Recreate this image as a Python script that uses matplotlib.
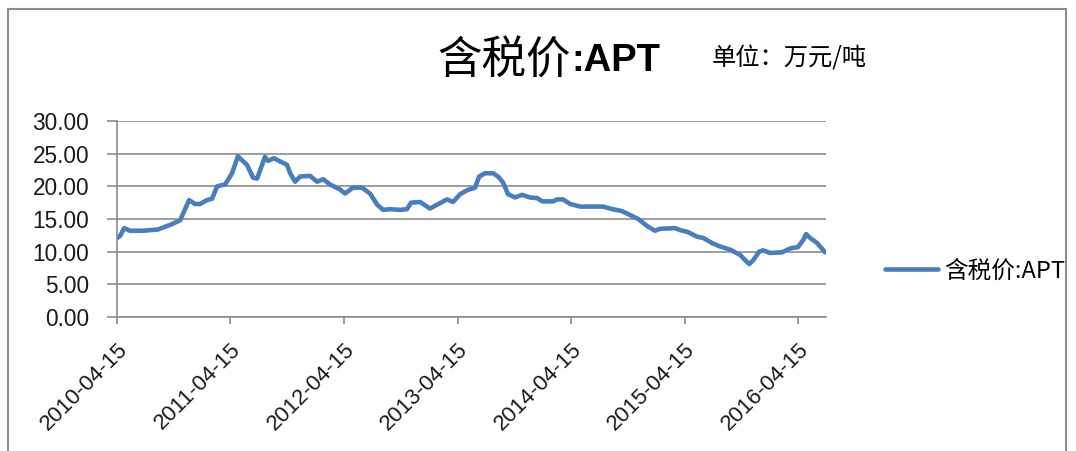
import matplotlib
matplotlib.use("Agg")
import matplotlib.pyplot as plt
import pandas as pd
from matplotlib.patches import Rectangle
from matplotlib.lines import Line2D

plt.rcParams['font.family'] = ['Noto Sans CJK SC', 'DejaVu Sans']

dates = ["2010-04-15", "2010-04-25", "2010-05-08", "2010-05-27", "2010-07-08", "2010-08-25",
         "2010-10-03", "2010-11-04", "2010-12-03", "2010-12-22", "2011-01-07", "2011-01-30",
         "2011-02-15", "2011-03-03", "2011-03-29", "2011-04-20", "2011-05-09", "2011-06-07",
         "2011-06-27", "2011-07-10", "2011-08-04", "2011-08-14", "2011-09-02", "2011-09-22",
         "2011-10-14", "2011-10-24", "2011-11-09", "2011-11-25", "2011-12-27", "2012-01-19",
         "2012-02-07", "2012-02-29", "2012-04-02", "2012-04-18", "2012-05-13", "2012-06-11",
         "2012-07-07", "2012-07-30", "2012-08-18", "2012-09-09", "2012-10-12", "2012-11-03",
         "2012-11-16", "2012-12-15", "2013-01-16", "2013-02-08", "2013-03-12", "2013-03-31",
         "2013-04-23", "2013-05-15", "2013-06-10", "2013-06-23", "2013-07-12", "2013-08-07",
         "2013-08-23", "2013-09-08", "2013-09-24", "2013-10-17", "2013-11-08", "2013-12-04",
         "2013-12-27", "2014-01-12", "2014-02-16", "2014-03-01", "2014-03-20", "2014-04-12",
         "2014-05-14", "2014-07-27", "2014-08-18", "2014-09-26", "2014-10-22", "2014-11-17",
         "2014-12-16", "2015-01-10", "2015-01-26", "2015-03-16", "2015-04-01", "2015-04-26",
         "2015-05-25", "2015-06-14", "2015-07-13", "2015-08-07", "2015-09-09", "2015-10-11",
         "2015-10-27", "2015-11-09", "2015-11-22", "2015-12-11", "2015-12-24", "2016-01-15",
         "2016-02-23", "2016-03-20", "2016-04-14", "2016-05-01", "2016-05-10", "2016-05-23",
         "2016-06-15", "2016-07-10"]
prices = [12.1, 12.4, 13.6, 13.2, 13.2, 13.4,
          14.1, 14.8, 17.9, 17.3, 17.3, 17.9,
          18.1, 20.0, 20.3, 22.0, 24.6, 23.3,
          21.3, 21.2, 24.5, 23.9, 24.3, 23.8,
          23.3, 22.0, 20.7, 21.5, 21.6, 20.7,
          21.1, 20.3, 19.5, 18.9, 19.8, 19.8,
          18.9, 17.2, 16.4, 16.5, 16.4, 16.5,
          17.5, 17.6, 16.6, 17.2, 18.0, 17.6,
          18.8, 19.4, 19.8, 21.5, 22.0, 22.0,
          21.5, 20.6, 18.8, 18.3, 18.7, 18.3,
          18.2, 17.7, 17.7, 18.0, 18.0, 17.3,
          16.9, 16.9, 16.6, 16.2, 15.6, 15.0,
          13.9, 13.2, 13.5, 13.6, 13.3, 13.0,
          12.3, 12.1, 11.3, 10.8, 10.3, 9.5,
          8.7, 8.1, 8.7, 10.0, 10.2, 9.8,
          9.9, 10.5, 10.7, 11.8, 12.7, 12.1,
          11.3, 9.9]
tick_labels = ["2010-04-15", "2011-04-15", "2012-04-15", "2013-04-15",
               "2014-04-15", "2015-04-15", "2016-04-15"]
y_ticks = [0, 5, 10, 15, 20, 25, 30]

series_name = "含税价:APT"
title_cn = "含税价"
title_en = ":APT"
unit_text = "单位：万元/吨"

x = pd.to_datetime(dates)
xt = pd.to_datetime(tick_labels)

W, H = 1076, 451
fig = plt.figure(figsize=(W / 100, H / 100), dpi=100)
fig.patch.set_facecolor("white")
ax = fig.add_axes([117 / W, 1 - 317 / H, (826 - 117) / W, (317 - 121) / H])

line_color = "#4A7EBB"
ax.plot(x, prices, color=line_color, lw=3.3, solid_joinstyle="round", solid_capstyle="round")

latin = ['Liberation Sans', 'DejaVu Sans']
ax.set_ylim(0, 30)
ax.set_yticks(y_ticks)
ax.set_yticklabels([f"{v:.2f}" for v in y_ticks], fontsize=16.3, family=latin, color="#1a1a1a")
ax.set_xlim(xt[0], x[-1] + pd.Timedelta(days=3))
ax.set_xticks(xt)
ax.set_xticklabels(tick_labels, rotation=45, ha="right", rotation_mode="anchor",
                   fontsize=16, family=latin, color="#1a1a1a")

ax.grid(axis="y", color="#8C8C8C", lw=1.2)
ax.set_axisbelow(True)
for s in ["top", "right"]:
    ax.spines[s].set_visible(False)
for s in ["left", "bottom"]:
    ax.spines[s].set_color("#8C8C8C")
    ax.spines[s].set_linewidth(1.2)
ax.tick_params(axis="y", length=7, width=1.2, color="#8C8C8C", pad=13)
ax.tick_params(axis="x", length=5, width=1.2, color="#8C8C8C", direction="out", pad=11)

# titles
fig.text(571 / W, 1 - 61 / H, title_cn, ha="right", va="center", fontsize=32)
fig.text(571 / W, 1 - 61 / H, title_en, ha="left", va="center", fontsize=27.5, fontweight="bold",
         family=latin)
fig.text(712 / W, 1 - 59 / H, unit_text, ha="left", va="center", fontsize=17.5)

# legend
handle = Line2D([0], [0], color=line_color, lw=3.3, solid_capstyle="round")
fig.legend([handle], [series_name], loc="center left",
           bbox_to_anchor=(864 / W, 1 - 271 / H), frameon=False, fontsize=17,
           handlelength=2.25, handletextpad=0.25)

# border
fig.patches.append(Rectangle((8 / W, -0.05), (1066 - 8) / W, 1.05 - 9 / H,
                             transform=fig.transFigure, fill=False,
                             edgecolor="#8C8C8C", lw=1.5))

fig.savefig("out.png", dpi=100, facecolor="white")
